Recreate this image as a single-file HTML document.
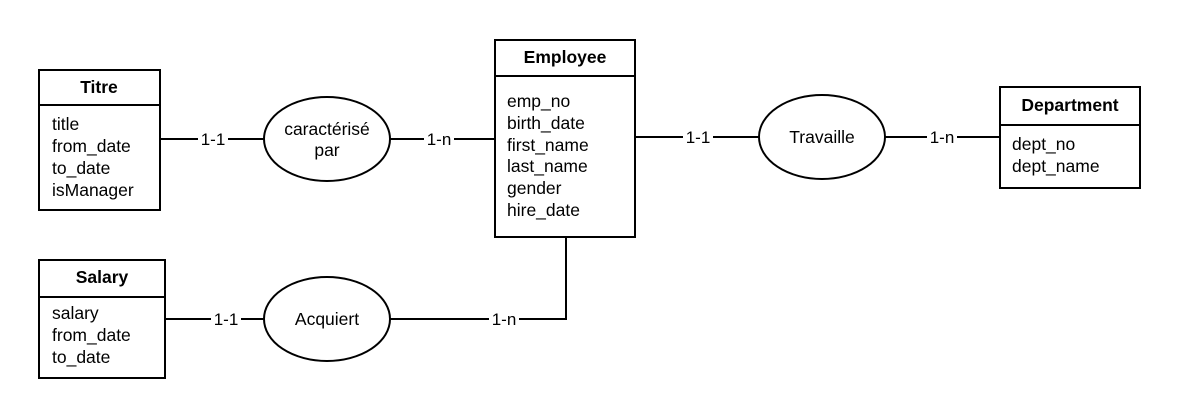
<!DOCTYPE html>
<html><head><meta charset="utf-8"><style>
body{margin:0;background:#fff;}
svg{display:block;font-family:"Liberation Sans",sans-serif;}
</style></head><body>
<svg width="1180" height="418" viewBox="0 0 1180 418" xmlns="http://www.w3.org/2000/svg">
<g stroke="#000" stroke-width="2" fill="none">
<line x1="160" y1="139" x2="264" y2="139"/>
<line x1="390" y1="139" x2="495" y2="139"/>
<line x1="635" y1="137" x2="759" y2="137"/>
<line x1="885" y1="137" x2="1000" y2="137"/>
<line x1="165" y1="319" x2="264" y2="319"/>
<polyline points="390,319 566,319 566,237"/>
</g>
<g font-size="17" fill="#000">
<rect x="198" y="130" width="30" height="18" fill="#fff"/><text x="213" y="145" text-anchor="middle">1-1</text>
<rect x="424" y="130" width="30" height="18" fill="#fff"/><text x="439" y="145" text-anchor="middle">1-n</text>
<rect x="683" y="128" width="30" height="18" fill="#fff"/><text x="698" y="143" text-anchor="middle">1-1</text>
<rect x="927" y="128" width="30" height="18" fill="#fff"/><text x="942" y="143" text-anchor="middle">1-n</text>
<rect x="211" y="310" width="30" height="18" fill="#fff"/><text x="226" y="325" text-anchor="middle">1-1</text>
<rect x="489" y="310" width="30" height="18" fill="#fff"/><text x="504" y="325" text-anchor="middle">1-n</text>
</g>
<g stroke="#000" stroke-width="2" fill="#fff">
<ellipse cx="327" cy="139" rx="63" ry="42"/>
<ellipse cx="822" cy="137" rx="63" ry="42"/>
<ellipse cx="327" cy="319" rx="63" ry="42"/>
<rect x="39" y="70" width="121" height="140"/>
<line x1="39" y1="105" x2="160" y2="105"/>
<rect x="495" y="40" width="140" height="197"/>
<line x1="495" y1="76" x2="635" y2="76"/>
<rect x="1000" y="87" width="140" height="101"/>
<line x1="1000" y1="125" x2="1140" y2="125"/>
<rect x="39" y="260" width="126" height="118"/>
<line x1="39" y1="297" x2="165" y2="297"/>
</g>
<g font-size="17.5" fill="#000">
<text x="327" y="135" text-anchor="middle">caractérisé</text>
<text x="327" y="156" text-anchor="middle">par</text>
<text x="822" y="143" text-anchor="middle">Travaille</text>
<text x="327" y="325" text-anchor="middle">Acquiert</text>
<g font-weight="bold">
<text x="99" y="93" text-anchor="middle">Titre</text>
<text x="565" y="63" text-anchor="middle">Employee</text>
<text x="1070" y="111" text-anchor="middle">Department</text>
<text x="102" y="283" text-anchor="middle">Salary</text>
</g>
<text x="52" y="130">title</text>
<text x="52" y="152">from_date</text>
<text x="52" y="174">to_date</text>
<text x="52" y="196">isManager</text>
<text x="507" y="107">emp_no</text>
<text x="507" y="129">birth_date</text>
<text x="507" y="151">first_name</text>
<text x="507" y="172">last_name</text>
<text x="507" y="194">gender</text>
<text x="507" y="216">hire_date</text>
<text x="1012" y="150">dept_no</text>
<text x="1012" y="172">dept_name</text>
<text x="52" y="319">salary</text>
<text x="52" y="341">from_date</text>
<text x="52" y="363">to_date</text>
</g>
</svg>
</body></html>
